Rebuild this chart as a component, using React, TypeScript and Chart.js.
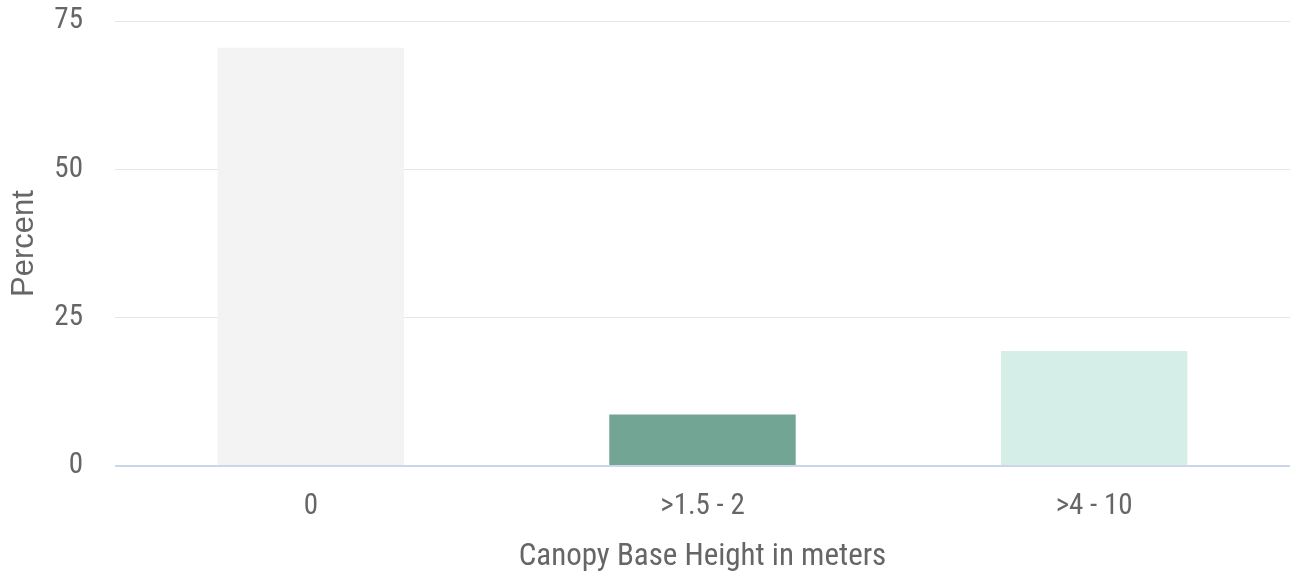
import React, { useEffect, useRef } from "react";
import { Chart, registerables } from "chart.js";

Chart.register(...registerables);

const categories = ["0", ">1.5 - 2", ">4 - 10"];
const percentValues = [70.5, 8.7, 19.4];
const barColors = ["#f3f3f4", "#73a595", "#d5efe8"];
const yTickValues = [0, 25, 50, 75];
const xAxisTitle = "Canopy Base Height in meters";
const yAxisTitle = "Percent";

const narrow = '"Liberation Sans Narrow", "Roboto Condensed", "Liberation Sans", sans-serif';
const regular = '"Liberation Sans", Arial, sans-serif';

export default function App() {
  const ref = useRef<HTMLCanvasElement>(null);

  useEffect(() => {
    const canvas = ref.current;
    if (!canvas) return;
    const chart = new Chart(canvas, {
      type: "bar",
      data: {
        labels: categories,
        datasets: [
          {
            data: percentValues,
            backgroundColor: barColors,
            borderWidth: 0,
            barPercentage: 0.476,
            categoryPercentage: 1,
          },
        ],
      },
      options: {
        animation: false,
        responsive: false,
        maintainAspectRatio: false,
        layout: { padding: { left: 0, right: 9, top: 21, bottom: 0 } },
        plugins: {
          legend: { display: false },
          tooltip: { enabled: false },
        },
        scales: {
          x: {
            grid: { display: false, drawTicks: false },
            border: { display: false },
            ticks: {
              color: "#666666",
              font: { family: narrow, size: 29 },
              padding: 23,
            },
            title: {
              display: true,
              text: xAxisTitle,
              color: "#666666",
              font: { family: narrow, size: 31 },
              padding: { top: 0, bottom: 2 },
            },
            afterFit: (s: any) => {
              s.height = 112;
              s.paddingLeft = 0;
              s.paddingRight = 0;
            },
          },
          y: {
            min: 0,
            max: 75,
            afterBuildTicks: (s: any) => {
              s.ticks = yTickValues.map((v) => ({ value: v }));
            },
            grid: {
              drawTicks: false,
              color: (c: any) => (c.tick && c.tick.value === 0 ? "#ccd6eb" : "#e6e6e6"),
              lineWidth: (c: any) => (c.tick && c.tick.value === 0 ? 2 : 1),
            },
            border: { display: false },
            ticks: {
              color: "#666666",
              font: { family: narrow, size: 29 },
              padding: 32,
            },
            title: {
              display: true,
              text: yAxisTitle,
              color: "#666666",
              font: { family: regular, size: 31 },
              padding: { top: 6, bottom: 0 },
            },
            afterFit: (s: any) => {
              s.width = 115;
              s.paddingTop = 0;
              s.paddingBottom = 0;
            },
          },
        },
      },
    });
    return () => chart.destroy();
  }, []);

  return (
    <div
      style={{
        position: "fixed",
        left: 0,
        top: 0,
        width: 1299,
        height: 578,
        background: "#ffffff",
      }}
    >
      <canvas ref={ref} width={1299} height={578} style={{ display: "block" }} />
    </div>
  );
}
